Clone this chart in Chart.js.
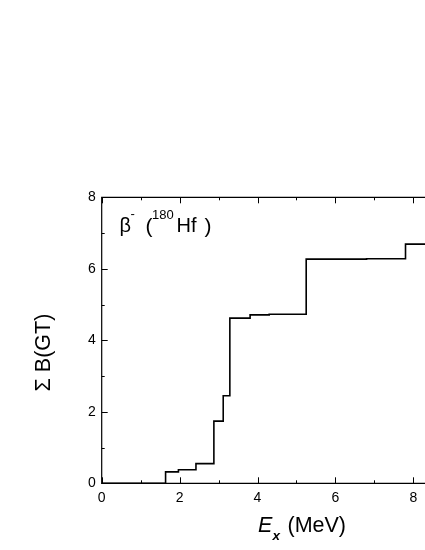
<!DOCTYPE html>
<html><head><meta charset="utf-8">
<script src="https://cdn.jsdelivr.net/npm/chart.js@4/dist/chart.umd.min.js"></script>
<style>
html,body{margin:0;padding:0;background:#fff;overflow:hidden;width:425px;height:550px}
#wrap{position:absolute;left:0;top:0;width:520px;height:550px}
</style>
</head><body><div id="wrap"><canvas id="c" width="520" height="550" style="width:520px;height:550px"></canvas></div>
<script>
// Excitation energy (MeV) where the cumulative sum steps, and the running sum of B(GT)
const energies = [0, 1.64, 1.97, 2.42, 2.88, 3.12, 3.29, 3.81, 4.30, 5.25, 6.80, 7.80, 10];
const sumBGT   = [0, 0.32, 0.38, 0.55, 1.74, 2.45, 4.62, 4.71, 4.73, 6.27, 6.28, 6.69, 6.69];
const xRange = [0, 10];
const yRange = [0, 8];
const xMajorStep = 2, yMajorStep = 2;

const FONT = "'Liberation Sans', Arial, sans-serif";

const framePlugin = {
  id: 'frame',
  afterDraw(chart) {
    const {ctx, chartArea: a, scales: {x, y}} = chart;
    ctx.save();
    ctx.strokeStyle = '#000';
    ctx.lineWidth = 1.2;
    ctx.beginPath();
    ctx.rect(a.left, a.top, a.right - a.left, a.bottom - a.top);
    ctx.stroke();
    ctx.lineWidth = 1;
    ctx.beginPath();
    for (let v = xRange[0]; v <= xRange[1]; v += 1) {
      const px = Math.round(x.getPixelForValue(v)) + 0.5;
      const len = (v % xMajorStep === 0) ? 6 : 3;
      ctx.moveTo(px, a.bottom); ctx.lineTo(px, a.bottom - len);
      ctx.moveTo(px, a.top); ctx.lineTo(px, a.top + len);
    }
    for (let v = yRange[0]; v <= yRange[1]; v += 1) {
      const py = Math.round(y.getPixelForValue(v)) + 0.5;
      const len = (v % yMajorStep === 0) ? 6 : 3;
      ctx.moveTo(a.left, py); ctx.lineTo(a.left + len, py);
      ctx.moveTo(a.right, py); ctx.lineTo(a.right - len, py);
    }
    ctx.stroke();

    // annotation β⁻ (¹⁸⁰Hf )
    ctx.fillStyle = '#000';
    ctx.textBaseline = 'alphabetic';
    ctx.textAlign = 'left';
    ctx.font = '20px ' + FONT;
    ctx.fillText('\u03B2', 119.5, 232);
    ctx.font = '21px ' + FONT;
    ctx.fillText('(', 145.5, 233);
    ctx.fillText(')', 204.5, 233);
    ctx.font = '20px ' + FONT;
    ctx.fillText('Hf', 176.5, 232);
    ctx.font = '13px ' + FONT;
    ctx.fillText('-', 130.5, 218);
    ctx.font = '13px ' + FONT;
    ctx.fillText('180', 152, 218.5);

    // x-axis title: E_x (MeV)
    ctx.font = 'italic 21.5px ' + FONT;
    ctx.fillText('E', 258, 532);
    ctx.font = 'italic bold 13.5px ' + FONT;
    ctx.fillText('x', 272.5, 540);
    ctx.font = '21.5px ' + FONT;
    ctx.fillText('(MeV)', 287.5, 532);

    // y-axis title
    ctx.translate(50, 352.5);
    ctx.rotate(-Math.PI / 2);
    ctx.textAlign = 'center';
    ctx.font = '21.5px ' + FONT;
    ctx.fillText('\u03A3 B(GT)', 0, 0);
    ctx.restore();
  }
};

new Chart(document.getElementById('c').getContext('2d'), {
  type: 'line',
  data: {
    datasets: [{
      data: energies.map((e, i) => ({x: e, y: sumBGT[i]})),
      stepped: 'before',
      borderColor: '#000',
      borderWidth: 1.6,
      pointRadius: 0,
      fill: false,
      tension: 0
    }]
  },
  options: {
    responsive: false,
    animation: false,
    devicePixelRatio: 1,
    layout: {padding: {top: 197.3, right: 28.8, left: 0, bottom: 0}},
    plugins: {legend: {display: false}, tooltip: {enabled: false}, title: {display: false}},
    scales: {
      x: {
        type: 'linear', position: 'bottom', min: xRange[0], max: xRange[1],
        grid: {display: false, drawTicks: false},
        border: {display: false},
        ticks: {stepSize: xMajorStep, padding: 6, color: '#000', maxRotation: 0,
                font: {family: FONT, size: 14}},
        afterFit(s) { s.height = 66.7; }
      },
      y: {
        type: 'linear', position: 'left', min: yRange[0], max: yRange[1],
        grid: {display: false, drawTicks: false},
        border: {display: false},
        ticks: {stepSize: yMajorStep, padding: 6, color: '#000',
                font: {family: FONT, size: 14}},
        afterFit(s) { s.width = 101.7; }
      }
    }
  },
  plugins: [framePlugin]
});
</script>
</body></html>
